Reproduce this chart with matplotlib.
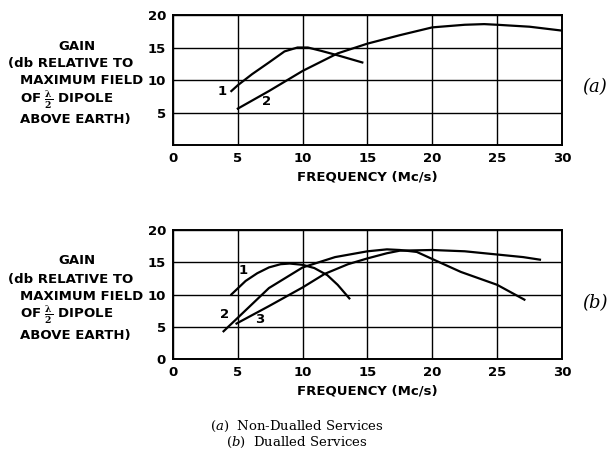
import matplotlib
matplotlib.use("Agg")
import matplotlib.pyplot as plt

plt.rcParams["mathtext.fontset"] = "dejavuserif"

# (a) non-dualled services
a1_f = [4.5, 5.0, 6.1, 7.4, 8.6, 9.6, 10.4, 11.4, 12.7, 14.6]
a1_g = [8.3, 9.2, 10.9, 12.7, 14.4, 15.0, 15.0, 14.5, 13.8, 12.7]
a2_f = [5.0, 7.4, 10.0, 12.7, 15.0, 17.5, 20.0, 22.5, 24.0, 25.0, 27.5, 30.0]
a2_g = [5.6, 8.3, 11.4, 14.1, 15.6, 16.9, 18.1, 18.5, 18.6, 18.5, 18.2, 17.6]

# (b) dualled services
b1_f = [4.5, 5.6, 6.5, 7.4, 8.3, 9.0, 10.0, 10.9, 11.9, 12.7, 13.6]
b1_g = [10.0, 12.1, 13.3, 14.2, 14.7, 14.8, 14.6, 14.1, 13.0, 11.5, 9.4]
b2_f = [3.9, 5.0, 7.4, 10.0, 12.5, 15.0, 16.5, 17.5, 18.8, 20.0, 22.2, 25.0, 27.1]
b2_g = [4.3, 6.4, 11.0, 14.2, 15.8, 16.7, 17.0, 16.9, 16.6, 15.5, 13.5, 11.5, 9.2]
b3_f = [4.9, 7.4, 10.0, 11.7, 13.5, 15.0, 16.5, 17.5, 20.0, 22.5, 25.0, 27.0, 28.3]
b3_g = [5.5, 8.2, 11.1, 13.2, 14.7, 15.6, 16.4, 16.8, 16.9, 16.7, 16.2, 15.8, 15.4]

x_ticks = [0, 5, 10, 15, 20, 25, 30]
labels_a = [("1", 3.8, 8.3), ("2", 7.2, 6.7)]
labels_b = [("1", 5.4, 13.7), ("2", 4.0, 6.9), ("3", 6.7, 6.2)]

side_lines = ["(db RELATIVE TO", "MAXIMUM FIELD",
              r"OF $\mathbf{\frac{\lambda}{2}}$ DIPOLE", "ABOVE EARTH)"]

lw = 1.6
font = dict(family="DejaVu Sans", weight="bold", fontsize=9.5)

fig = plt.figure(figsize=(6.1, 4.51), dpi=100)
ax_a = fig.add_axes([0.2836, 0.6785, 0.6377, 0.2882])
ax_b = fig.add_axes([0.2836, 0.2040, 0.6377, 0.2860])


def format_axes(ax, yticks):
    ax.set_xlim(0, 30)
    ax.set_ylim(0, 20)
    ax.set_xticks(x_ticks)
    ax.set_yticks(yticks)
    ax.set_xticklabels([str(t) for t in x_ticks], **font)
    ax.set_yticklabels([str(t) for t in yticks], **font)
    ax.tick_params(length=0, pad=5)
    ax.grid(True, color="black", linewidth=1.0)
    for s in ax.spines.values():
        s.set_linewidth(1.4)
    ax.set_xlabel("FREQUENCY (Mc/s)", labelpad=4, **font)


format_axes(ax_a, [5, 10, 15, 20])
format_axes(ax_b, [0, 5, 10, 15, 20])

ax_a.plot(a1_f, a1_g, color="black", linewidth=lw)
ax_a.plot(a2_f, a2_g, color="black", linewidth=lw)
for t, x, y in labels_a:
    ax_a.text(x, y, t, ha="center", va="center", **font)

ax_b.plot(b1_f, b1_g, color="black", linewidth=lw)
ax_b.plot(b2_f, b2_g, color="black", linewidth=lw)
ax_b.plot(b3_f, b3_g, color="black", linewidth=lw)
for t, x, y in labels_b:
    ax_b.text(x, y, t, ha="center", va="center", **font)


def side_text(y_gain, ys):
    fig.text(77 / 610, 1 - y_gain / 451, "GAIN", ha="center", va="center", **font)
    for line, y in zip(side_lines, ys):
        x = 8 if line.startswith("(") else 20
        fig.text(x / 610, 1 - y / 451, line, ha="left", va="center", **font)


side_text(46, [63, 81, 100, 120])
side_text(260, [279, 296, 315, 335])

fig.text(595 / 610, 1 - 87 / 451, "(a)", ha="center", va="center",
         family="DejaVu Serif", style="italic", fontsize=13)
fig.text(595 / 610, 1 - 303 / 451, "(b)", ha="center", va="center",
         family="DejaVu Serif", style="italic", fontsize=13)

fig.text(297 / 610, 1 - 426 / 451, r"$\mathit{(a)}$  Non-Dualled Services",
         ha="center", va="center", family="DejaVu Serif", fontsize=9.5)
fig.text(297 / 610, 1 - 442 / 451, r"$\mathit{(b)}$  Dualled Services",
         ha="center", va="center", family="DejaVu Serif", fontsize=9.5)

fig.savefig("out.png", dpi=100)
